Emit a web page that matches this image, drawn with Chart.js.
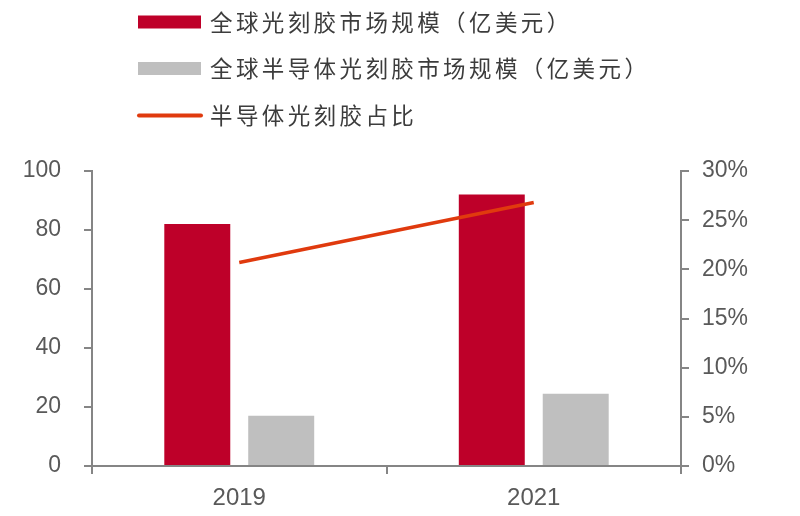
<!DOCTYPE html>
<html>
<head>
<meta charset="utf-8">
<script src="https://cdn.jsdelivr.net/npm/chart.js@4/dist/chart.umd.min.js"></script>
<style>
  html, body { margin: 0; padding: 0; background: #fff; }
  #wrap { width: 800px; height: 516px; }
</style>
</head>
<body>
<div id="wrap"><canvas id="photoresist" width="800" height="516"></canvas></div>
<script>
const years = ['2019', '2021'];
const totalMarket = [82, 92];      // 全球光刻胶市场规模（亿美元）
const semiMarket = [17, 24.5];     // 全球半导体光刻胶市场规模（亿美元）
const semiShare = [20.7, 26.8];    // 半导体光刻胶占比 (%)

const axisGray = '#858585';
const tickFont = { family: 'Liberation Sans, Arial, sans-serif', size: 23 };

// legend stacked in the top-left corner, like the report figure
const sideLegend = {
  id: 'sideLegend',
  afterDraw(chart) {
    const ctx = chart.ctx;
    const rows = [22, 68.5, 115.5];
    ctx.save();
    ctx.font = '22.5px "Noto Sans CJK SC"';
    ctx.letterSpacing = '3.4px';
    ctx.textBaseline = 'middle';
    chart.data.datasets.forEach((ds, i) => {
      const y = rows[i];
      if (ds.type === 'line') {
        ctx.strokeStyle = ds.borderColor;
        ctx.lineWidth = 4;
        ctx.lineCap = 'round';
        ctx.beginPath();
        ctx.moveTo(139, y);
        ctx.lineTo(201, y);
        ctx.stroke();
      } else {
        ctx.fillStyle = ds.backgroundColor;
        ctx.fillRect(138, y - 6.5, 63, 13);
      }
      ctx.fillStyle = '#3c3c3c';
      ctx.fillText(ds.label, 210, y);
    });
    ctx.restore();
  }
};

new Chart(document.getElementById('photoresist'), {
  type: 'bar',
  data: {
    labels: years,
    datasets: [
      {
        label: '全球光刻胶市场规模（亿美元）',
        data: totalMarket,
        backgroundColor: '#BE0029',
        yAxisID: 'y',
        order: 1
      },
      {
        label: '全球半导体光刻胶市场规模（亿美元）',
        data: semiMarket,
        backgroundColor: '#BFBFBF',
        yAxisID: 'y',
        order: 1
      },
      {
        type: 'line',
        label: '半导体光刻胶占比',
        data: semiShare,
        borderColor: '#E03A0E',
        borderWidth: 3.5,
        pointRadius: 0,
        yAxisID: 'y1',
        order: 0
      }
    ]
  },
  options: {
    responsive: false,
    animation: false,
    devicePixelRatio: 1,
    layout: { padding: { top: 171, left: 0, right: 0, bottom: 0 } },
    datasets: {
      bar: { categoryPercentage: 0.57, barPercentage: 0.786 }
    },
    plugins: {
      legend: { display: false },
      tooltip: { enabled: false }
    },
    scales: {
      x: {
        offset: true,
        grid: { offset: true, drawOnChartArea: false, tickLength: 8, color: axisGray, lineWidth: 2 },
        border: { color: axisGray, width: 2 },
        ticks: { font: { family: tickFont.family, size: 24 }, color: '#595959', padding: 10 },
        afterFit(scale) { scale.height = 50; }
      },
      y: {
        position: 'left',
        min: 0,
        max: 100,
        ticks: { stepSize: 20, font: tickFont, color: '#595959', padding: 23 },
        grid: { drawOnChartArea: false, tickLength: 8, color: axisGray, lineWidth: 2 },
        border: { color: axisGray, width: 2 },
        afterFit(scale) { scale.width = 92; }
      },
      y1: {
        position: 'right',
        min: 0,
        max: 30,
        ticks: {
          stepSize: 5,
          font: tickFont,
          color: '#595959',
          padding: 13,
          callback: v => v + '%'
        },
        grid: { drawOnChartArea: false, tickLength: 8, color: axisGray, lineWidth: 2 },
        border: { color: axisGray, width: 2 },
        afterFit(scale) { scale.width = 119; }
      }
    }
  },
  plugins: [sideLegend]
});
</script>
</body>
</html>
